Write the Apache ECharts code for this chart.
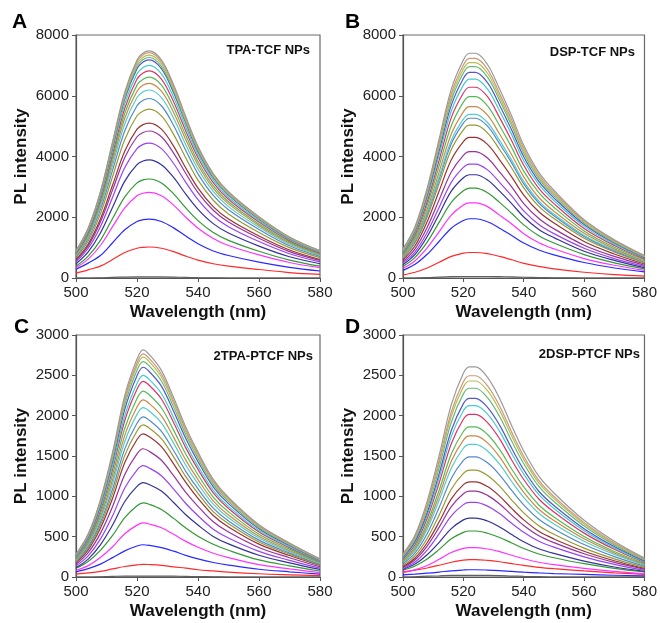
<!DOCTYPE html>
<html><head><meta charset="utf-8">
<script src="https://cdn.jsdelivr.net/npm/echarts@6/dist/echarts.min.js"></script>
<style>html,body{margin:0;padding:0;background:#fff}#c{width:660px;height:623px}</style>
</head><body><div id="c"></div>
<script>
const wavelengths = [500,504,508,512,516,520,522,524,528,532,536,540,545,550,560,570,580];
const xTicks = [500,520,540,560,580];
const yTicksTop = [0,2000,4000,6000,8000];
const yTicksBottom = [0,500,1000,1500,2000,2500,3000];
const panelLabels = ['A','B','C','D'];
const sampleNames = ['TPA-TCF NPs','DSP-TCF NPs','2TPA-PTCF NPs','2DSP-PTCF NPs'];

const seriesA = [
[0,0,5,20,30,35,35,35,35,30,20,10,5,0,0,0,0],
[160,270,390,610,840,980,1010,1020,980,870,720,590,470,390,280,180,120],
[290,490,740,1160,1590,1860,1920,1940,1860,1650,1380,1130,890,740,520,350,230],
[340,620,1070,1690,2310,2710,2790,2820,2710,2400,2000,1640,1300,1070,760,510,340],
[390,720,1240,1960,2670,3130,3230,3260,3130,2770,2310,1890,1500,1240,880,590,390],
[470,860,1480,2330,3190,3730,3850,3890,3730,3310,2760,2260,1790,1480,1050,700,470],
[530,980,1690,2660,3640,4260,4400,4440,4260,3770,3150,2580,2040,1690,1200,800,530],
[580,1060,1840,2900,3970,4650,4790,4840,4650,4110,3440,2810,2230,1840,1310,870,580],
[610,1120,1940,3060,4180,4900,5050,5100,4900,4340,3620,2960,2350,1940,1380,920,610],
[670,1220,2110,3340,4560,5340,5500,5560,5340,4730,3950,3220,2560,2110,1500,1000,670],
[710,1300,2250,3550,4850,5670,5850,5910,5670,5020,4200,3430,2720,2250,1600,1060,710],
[740,1360,2350,3710,5080,5940,6130,6190,5940,5260,4390,3590,2850,2350,1670,1110,740],
[770,1410,2440,3850,5260,6150,6350,6410,6150,5450,4550,3720,2950,2440,1730,1150,770],
[790,1450,2510,3970,5420,6350,6540,6610,6350,5620,4690,3830,3040,2510,1780,1190,790],
[820,1500,2590,4090,5590,6550,6750,6820,6550,5800,4840,3960,3140,2590,1840,1230,820],
[840,1540,2660,4200,5740,6720,6930,7000,6720,5950,4970,4060,3220,2660,1890,1260,840],
[860,1580,2730,4310,5890,6890,7110,7180,6890,6100,5100,4160,3300,2730,1940,1290,860],
[870,1600,2760,4360,5950,6970,7190,7260,6970,6170,5150,4210,3340,2760,1960,1310,870],
[880,1610,2790,4400,6020,7050,7270,7340,7050,6240,5210,4260,3380,2790,1980,1320,880],
[890,1630,2820,4450,6080,7120,7350,7420,7120,6310,5270,4300,3410,2820,2000,1340,890],
[900,1650,2840,4490,6130,7180,7410,7480,7180,6360,5310,4340,3440,2840,2020,1350,900]
];
const seriesB = [
[0,0,10,30,45,50,50,50,50,45,35,25,15,5,0,0,0],
[100,190,330,520,710,820,840,840,800,710,600,480,380,300,190,110,60],
[250,450,780,1210,1640,1890,1950,1950,1850,1640,1400,1150,920,760,510,330,200],
[320,570,990,1530,2070,2400,2470,2470,2350,2070,1780,1460,1160,960,640,420,250],
[380,680,1180,1840,2490,2870,2960,2960,2810,2490,2130,1750,1390,1150,770,500,300],
[440,780,1360,2110,2860,3300,3400,3400,3230,2860,2450,2010,1600,1330,880,580,340],
[490,860,1500,2330,3150,3640,3750,3750,3560,3150,2700,2210,1760,1460,980,640,380],
[540,960,1660,2580,3490,4040,4160,4160,3950,3490,3000,2450,1960,1620,1080,710,420],
[600,1060,1850,2870,3890,4490,4630,4630,4400,3890,3330,2730,2180,1810,1200,790,460],
[650,1160,2010,3120,4230,4880,5030,5030,4780,4230,3620,2970,2360,1960,1310,860,500],
[680,1210,2100,3260,4420,5100,5260,5260,5000,4420,3790,3100,2470,2050,1370,890,530],
[700,1240,2160,3340,4530,5230,5390,5390,5120,4530,3880,3180,2530,2100,1400,920,540],
[730,1300,2260,3500,4740,5470,5640,5640,5360,4740,4060,3330,2650,2200,1470,960,560],
[780,1370,2390,3700,5010,5790,5970,5970,5670,5010,4300,3520,2810,2330,1550,1010,600],
[820,1440,2510,3890,5280,6090,6280,6280,5970,5280,4520,3710,2950,2450,1630,1070,630],
[850,1510,2620,4060,5500,6350,6550,6550,6220,5500,4720,3860,3080,2550,1700,1110,660],
[880,1560,2710,4200,5690,6570,6770,6770,6430,5690,4870,3990,3180,2640,1760,1150,680],
[900,1600,2780,4320,5850,6750,6960,6960,6610,5850,5010,4110,3270,2710,1810,1180,700],
[920,1630,2840,4400,5960,6880,7090,7090,6740,5960,5100,4180,3330,2770,1840,1210,710],
[940,1660,2890,4480,6070,7010,7230,7230,6870,6070,5210,4270,3400,2820,1880,1230,720],
[960,1700,2960,4590,6220,7180,7400,7400,7030,6220,5330,4370,3480,2890,1920,1260,740]
];
const seriesC = [
[0,0,3,8,12,12,12,12,12,10,8,5,3,0,0,0,0],
[35,50,70,100,130,150,157,155,145,125,110,90,75,60,40,27,16],
[64,104,160,240,324,384,400,392,364,320,268,224,180,148,96,64,36],
[80,141,241,375,536,643,670,657,610,529,442,369,295,241,154,101,54],
[110,193,331,515,736,883,920,902,837,727,607,506,405,331,212,138,74],
[117,222,398,644,936,1123,1170,1147,1065,924,772,644,503,410,269,176,94],
[138,262,469,759,1104,1325,1380,1352,1256,1090,911,759,593,483,317,207,110],
[159,302,541,875,1272,1526,1590,1558,1447,1256,1049,875,684,557,366,239,127],
[178,337,604,976,1420,1704,1775,1740,1615,1402,1172,976,763,621,408,266,142],
[189,358,641,1037,1508,1810,1885,1847,1715,1489,1244,1037,811,660,434,283,151],
[199,377,675,1092,1588,1906,1985,1945,1806,1568,1310,1092,854,695,457,298,159],
[210,399,714,1155,1680,2016,2100,2058,1911,1659,1386,1155,903,735,483,315,168],
[220,417,746,1207,1756,2107,2195,2151,1997,1734,1449,1207,944,768,505,329,176],
[231,438,784,1268,1844,2213,2305,2259,2098,1821,1521,1268,991,807,530,346,184],
[243,461,825,1334,1940,2328,2425,2377,2207,1916,1601,1334,1043,849,558,364,194],
[250,475,850,1375,2000,2400,2500,2450,2275,1975,1650,1375,1075,875,575,375,200],
[260,494,884,1430,2080,2496,2600,2548,2366,2054,1716,1430,1118,910,598,390,208],
[267,507,908,1469,2136,2563,2670,2617,2430,2109,1762,1469,1148,935,614,401,214],
[273,518,927,1499,2180,2616,2725,2671,2480,2153,1799,1499,1172,954,627,409,218],
[277,525,940,1521,2212,2654,2765,2710,2516,2184,1825,1521,1189,968,636,415,221],
[282,535,957,1548,2252,2702,2815,2759,2562,2224,1858,1548,1210,985,647,422,225]
];
const seriesD = [
[0,3,10,15,20,20,20,20,20,18,12,8,4,0,0,0,0],
[27,36,47,61,77,87,90,90,86,79,69,60,50,43,32,22,14],
[65,86,112,146,183,209,215,215,206,189,166,144,120,103,75,52,32],
[55,88,142,219,303,354,365,365,347,314,270,226,183,153,106,69,40],
[86,137,222,342,473,553,570,570,542,490,422,353,285,239,165,108,63],
[95,160,275,430,600,708,730,730,694,621,526,438,350,292,197,124,70],
[102,185,333,537,759,897,925,925,879,786,666,555,444,370,250,157,83],
[117,213,383,618,873,1033,1065,1065,1012,905,767,639,511,426,288,181,96],
[130,236,425,684,968,1145,1180,1180,1121,1003,850,708,566,472,319,201,106],
[146,265,477,769,1087,1285,1325,1325,1259,1126,954,795,636,530,358,225,119],
[164,298,536,864,1222,1445,1490,1490,1416,1267,1073,894,715,596,402,253,134],
[181,329,592,954,1349,1596,1645,1645,1563,1398,1184,987,790,658,444,280,148],
[193,350,630,1015,1435,1698,1750,1750,1663,1488,1260,1050,840,700,473,298,158],
[205,372,670,1079,1525,1804,1860,1860,1767,1581,1339,1116,893,744,502,316,167],
[222,403,725,1169,1652,1955,2015,2015,1914,1713,1451,1209,967,806,544,343,181],
[234,425,765,1233,1743,2061,2125,2125,2019,1806,1530,1275,1020,850,574,361,191],
[244,443,797,1285,1816,2149,2215,2215,2104,1883,1595,1329,1063,886,598,377,199],
[257,468,842,1357,1919,2270,2340,2340,2223,1989,1685,1404,1123,936,632,398,211],
[267,486,875,1409,1993,2357,2430,2430,2309,2066,1750,1458,1166,972,656,413,219],
[274,499,898,1447,2046,2420,2495,2495,2370,2121,1796,1497,1198,998,674,424,225],
[287,521,938,1511,2136,2527,2605,2605,2475,2214,1876,1563,1250,1042,703,443,234]
];

const palette = ['#606060','#ff2a2a','#2a2aff','#ff33ff','#339933','#333399','#9944ee','#993399','#993333','#999933','#5588cc','#55cccc','#cc8844','#55bb55','#dd3366','#44cccc','#5555cc','#66bb77','#bbbb55','#cc9977','#999999'];
const paletteD = palette.slice(); paletteD[1] = palette[2]; paletteD[2] = palette[1];

const FONT = "'Liberation Sans', Arial, sans-serif";
const panels = [
  {data: seriesA, max: 8000, interval: 2000, colors: palette, left: 76, top: 35, h: 243},
  {data: seriesB, max: 8000, interval: 2000, colors: palette, left: 403, top: 35, h: 243},
  {data: seriesC, max: 3000, interval: 500, colors: palette, left: 76, top: 335, h: 242},
  {data: seriesD, max: 3000, interval: 500, colors: paletteD, left: 403, top: 335, h: 242}
];
const W = 244;

const grid = [], xAxis = [], yAxis = [], series = [], title = [];
panels.forEach((p, i) => {
  grid.push({left: p.left, top: p.top, width: W, height: p.h, show: true, borderColor: '#6a6a6a', borderWidth: 1.2, backgroundColor: 'transparent'});
  xAxis.push({
    type: 'value', gridIndex: i, min: 500, max: 580, interval: 20,
    name: 'Wavelength (nm)', nameLocation: 'middle', nameGap: 26,
    nameTextStyle: {fontFamily: FONT, fontWeight: 'bold', fontSize: 17, color: '#111'},
    axisLine: {show: true, onZero: false, lineStyle: {color: '#555', width: 1.2}},
    axisTick: {show: true, inside: false, length: 4, lineStyle: {color: '#555'}},
    axisLabel: {fontFamily: FONT, fontSize: 15, color: '#222', margin: 7, formatter: v => String(v)},
    splitLine: {show: false}
  });
  yAxis.push({
    type: 'value', gridIndex: i, min: 0, max: p.max, interval: p.interval,
    name: 'PL intensity', nameLocation: 'middle', nameGap: 46, nameRotate: 90,
    nameTextStyle: {fontFamily: FONT, fontWeight: 'bold', fontSize: 17, color: '#111'},
    axisLine: {show: true, lineStyle: {color: '#555', width: 1.2}},
    axisTick: {show: true, inside: false, length: 4, lineStyle: {color: '#555'}},
    axisLabel: {fontFamily: FONT, fontSize: 15, color: '#222', margin: 7, formatter: v => String(v)},
    splitLine: {show: false}
  });
  p.data.forEach((vals, k) => {
    series.push({
      type: 'line', xAxisIndex: i, yAxisIndex: i, smooth: 0.35, symbol: 'none',
      lineStyle: {color: p.colors[k], width: 1.2}, silent: true,
      data: wavelengths.map((x, j) => [x, vals[j]])
    });
  });
});

title.push({text: panelLabels[0], left: 12, top: 12, padding: 0, textStyle: {fontFamily: FONT, fontWeight: 'bold', fontSize: 21, color: '#000'}});
title.push({text: panelLabels[1], left: 345, top: 12, padding: 0, textStyle: {fontFamily: FONT, fontWeight: 'bold', fontSize: 21, color: '#000'}});
title.push({text: panelLabels[2], left: 14, top: 317, padding: 0, textStyle: {fontFamily: FONT, fontWeight: 'bold', fontSize: 21, color: '#000'}});
title.push({text: panelLabels[3], left: 345, top: 317, padding: 0, textStyle: {fontFamily: FONT, fontWeight: 'bold', fontSize: 21, color: '#000'}});
const ann = [{right: 350, top: 44}, {right: 25, top: 46}, {right: 347, top: 350}, {right: 20, top: 348}];
ann.forEach((a, i) => title.push({text: sampleNames[i], right: a.right, top: a.top, padding: 0,
  textStyle: {fontFamily: FONT, fontWeight: 'bold', fontSize: 13, color: '#111'}}));

const chart = echarts.init(document.getElementById('c'), null, {renderer: 'canvas'});
chart.setOption({animation: false, backgroundColor: '#fff', title, grid, xAxis, yAxis, series});
</script></body></html>
